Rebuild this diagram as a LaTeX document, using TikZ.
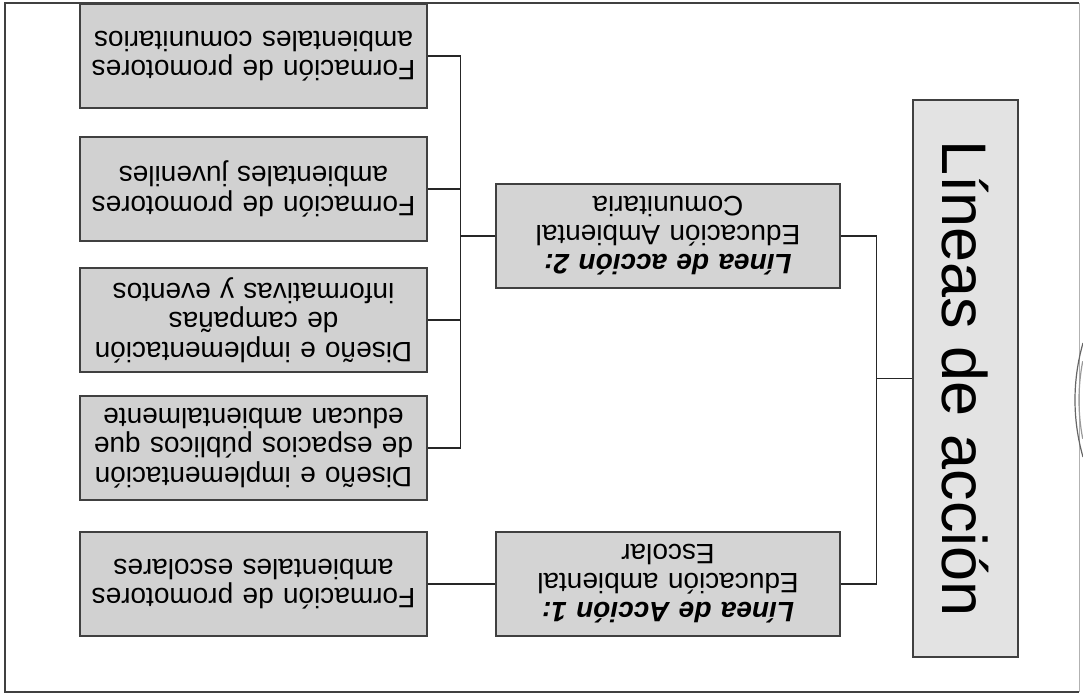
\documentclass[tikz,border=0pt]{standalone}
\usepackage{fontspec}
\setmainfont{Liberation Sans}
\usepackage{tikz}
\usetikzlibrary{positioning}

\begin{document}
\begin{tikzpicture}[
        x=1pt, y=1pt, rotate=180, transform shape,
        rootbox/.style={rectangle, draw=black!75, line width=1.6pt, fill=black!11, minimum width=557pt, minimum height=105pt, font={\fontsize{63}{66}\selectfont}},
        linea/.style={rectangle, draw=black!75, line width=1.6pt, fill=black!17, text width=328pt, inner xsep=8pt, minimum height=104pt, align=center, font={\fontsize{28}{29}\selectfont}},
        leaf/.style={rectangle, draw=black!75, line width=1.6pt, fill=black!18, text width=331pt, inner xsep=8pt, minimum height=104pt, align=center, font={\fontsize{28}{29.5}\selectfont}},
        link/.style={draw=black!85, line width=1.2pt},
        frame/.style={draw=black!75, line width=2pt},
        stamp/.style={draw=black!60, line width=1.2pt}
    ]
        \useasboundingbox (0,0) rectangle (1083,696);

        % Frame
        \draw [frame] (4,692) -- (1078,692) -- (1078,3) -- (4,3);
        \draw [frame, draw=black!30, line width=1pt] (4,3) -- (4,692);
        \draw [stamp] (-199,400) ++(-16:207) arc[start angle=-16, end angle=16, radius=207];
        \draw [stamp, draw=black!40] (-199,400) ++(-11:203) arc[start angle=-11, end angle=11, radius=203];

        % Root
        \node (root) [rootbox, rotate=90] at (117.5,378.5) {Líneas de acción};

        % Action lines
        \node (act1) [linea] at (415,584) {\textbf{\textit{Línea de Acción 1:}}\\ Educación ambiental\\ Escolar};
        \node (act2) [linea] at (415,236) {\textbf{\textit{Línea de acción 2:}}\\ Educación Ambiental\\ Comunitaria};

        % Activities
        \node (escolar) [leaf] at (829.5,584) {Formación de promotores\\ ambientales escolares};
        \node (espacios) [leaf] at (829.5,448) {Diseño e implementación\\ de espacios públicos que\\ educan ambientalmente};
        \node (campanas) [leaf] at (829.5,320) {Diseño e implementación\\ de campañas\\ informativas y eventos};
        \node (juvenil) [leaf] at (829.5,189) {Formación de promotores\\ ambientales juveniles};
        \node (comunit) [leaf] at (829.5,56) {Formación de promotores\\ ambientales comunitarios};

        % Links from root
        \draw [link] (root.south) -- ++(36,0) |- (act1.west);
        \draw [link] (root.south) -- ++(36,0) |- (act2.west);

        % Links for line 1
        \draw [link] (act1.east) -- (escolar.west);

        % Links for line 2
        \draw [link] (act2.east) -- ++(35,0) |- (espacios.west);
        \draw [link] (act2.east) -- ++(35,0) |- (campanas.west);
        \draw [link] (act2.east) -- ++(35,0) |- (juvenil.west);
        \draw [link] (act2.east) -- ++(35,0) |- (comunit.west);
    \end{tikzpicture}
\end{document}
